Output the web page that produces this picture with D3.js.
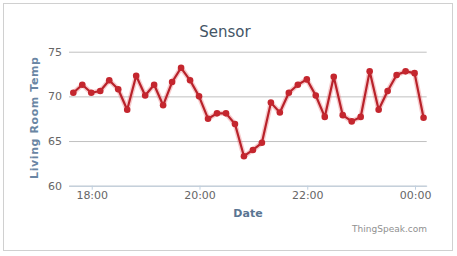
<!DOCTYPE html>
<html>
<head>
<meta charset="utf-8">
<script src="https://cdn.jsdelivr.net/npm/d3@7"></script>
<style>
  body { margin: 0; background: #fff; }
  text { font-family: "DejaVu Sans", sans-serif; }
</style>
</head>
<body>
<div id="main"></div>
<script>
const ctx = {
    w: 457,
    h: 256,
    left: 69,
    right: 426.7,
    top: 51.7,
    bottom: 185.7,
    LINE_COLOR: "#b8222a",
};

// readings every 10 minutes, starting 17:39:30
const START_TIME = "2014-01-01T17:39:30";
const STEP_MINUTES = 10;
const temps = [70.4, 71.3, 70.4, 70.6, 71.8, 70.8, 68.5, 72.3, 70.1, 71.3,
               69.0, 71.6, 73.2, 71.8, 70.0, 67.5, 68.1, 68.1, 66.9, 63.3,
               64.0, 64.8, 69.3, 68.2, 70.4, 71.3, 71.9, 70.1, 67.7, 72.2,
               67.9, 67.2, 67.7, 72.8, 68.5, 70.6, 72.4, 72.8, 72.6, 67.6];
const yTicks = [60, 65, 70, 75];
const xTickTimes = ["2014-01-01T18:00", "2014-01-01T20:00", "2014-01-01T22:00", "2014-01-02T00:00"];
const X_DOMAIN = ["2014-01-01T17:34:42", "2014-01-02T00:13:00"];

function createViz() {
    let svgEl = d3.select("#main").append("svg")
        .attr("width", ctx.w)
        .attr("height", ctx.h);

    // outer frame
    svgEl.append("rect")
        .attr("x", 3.5).attr("y", 3.5)
        .attr("width", 449).attr("height", 247)
        .attr("fill", "#fff")
        .attr("stroke", "#d0d0d0");

    let start = new Date(START_TIME);
    let data = temps.map((v, i) => ({ t: new Date(start.getTime() + i * STEP_MINUTES * 60000), v: v }));

    let x = d3.scaleTime()
        .domain(X_DOMAIN.map((d) => new Date(d)))
        .range([ctx.left, ctx.right]);
    let y = d3.scaleLinear()
        .domain([60, 75])
        .range([ctx.bottom, ctx.top]);

    // grid lines + y labels
    let yAxis = svgEl.append("g")
        .attr("transform", `translate(${ctx.left},0)`)
        .call(d3.axisLeft(y).tickValues(yTicks).tickSize(-(ctx.right - ctx.left)).tickPadding(7));
    yAxis.select(".domain").remove();
    yAxis.selectAll("line").attr("stroke", "#c0c0c0");
    yAxis.selectAll("text")
        .attr("fill", "#666")
        .style("font-size", "11px")
        .style("font-family", "DejaVu Sans");

    // x axis
    let xAxis = svgEl.append("g")
        .attr("transform", `translate(0,${ctx.bottom})`)
        .call(d3.axisBottom(x)
            .tickValues(xTickTimes.map((d) => new Date(d)))
            .tickFormat(d3.timeFormat("%H:%M"))
            .tickSize(4).tickSizeOuter(0).tickPadding(2));
    xAxis.select(".domain").attr("stroke", "#c0d0e0");
    xAxis.selectAll("line").attr("stroke", "#c0d0e0");
    xAxis.selectAll("text")
        .attr("fill", "#666")
        .style("font-size", "11px")
        .style("font-family", "DejaVu Sans");

    // glow under the line
    let line = d3.line().x((d) => x(d.t)).y((d) => y(d.v));
    svgEl.append("path")
        .datum(data)
        .attr("d", line)
        .attr("fill", "none")
        .attr("stroke", "#e86a70")
        .attr("stroke-opacity", 0.35)
        .attr("stroke-width", 5)
        .attr("stroke-linejoin", "round");
    svgEl.append("path")
        .datum(data)
        .attr("d", line)
        .attr("fill", "none")
        .attr("stroke", ctx.LINE_COLOR)
        .attr("stroke-width", 2.2)
        .attr("stroke-linejoin", "round");
    svgEl.selectAll("circle")
        .data(data)
        .enter()
        .append("circle")
        .attr("cx", (d) => x(d.t))
        .attr("cy", (d) => y(d.v))
        .attr("r", 3.3)
        .attr("fill", "#c4262e");

    // titles
    svgEl.append("text")
        .attr("x", 225).attr("y", 37)
        .attr("text-anchor", "middle")
        .attr("fill", "#445566")
        .style("font-size", "15px")
        .text("Sensor");
    svgEl.append("text")
        .attr("transform", `translate(38,${(ctx.top + ctx.bottom) / 2 - 1}) rotate(-90)`)
        .attr("text-anchor", "middle")
        .attr("fill", "#6a86a4")
        .style("font-size", "11px")
        .style("font-weight", "bold")
        .style("letter-spacing", "0.6px")
        .text("Living Room Temp");
    svgEl.append("text")
        .attr("x", 248).attr("y", 217)
        .attr("text-anchor", "middle")
        .attr("fill", "#5a7592")
        .style("font-size", "11px")
        .style("font-weight", "bold")
        .text("Date");
    svgEl.append("text")
        .attr("x", 427).attr("y", 232)
        .attr("text-anchor", "end")
        .attr("fill", "#909090")
        .style("font-size", "9px")
        .text("ThingSpeak.com");
}

createViz();
</script>
</body>
</html>
